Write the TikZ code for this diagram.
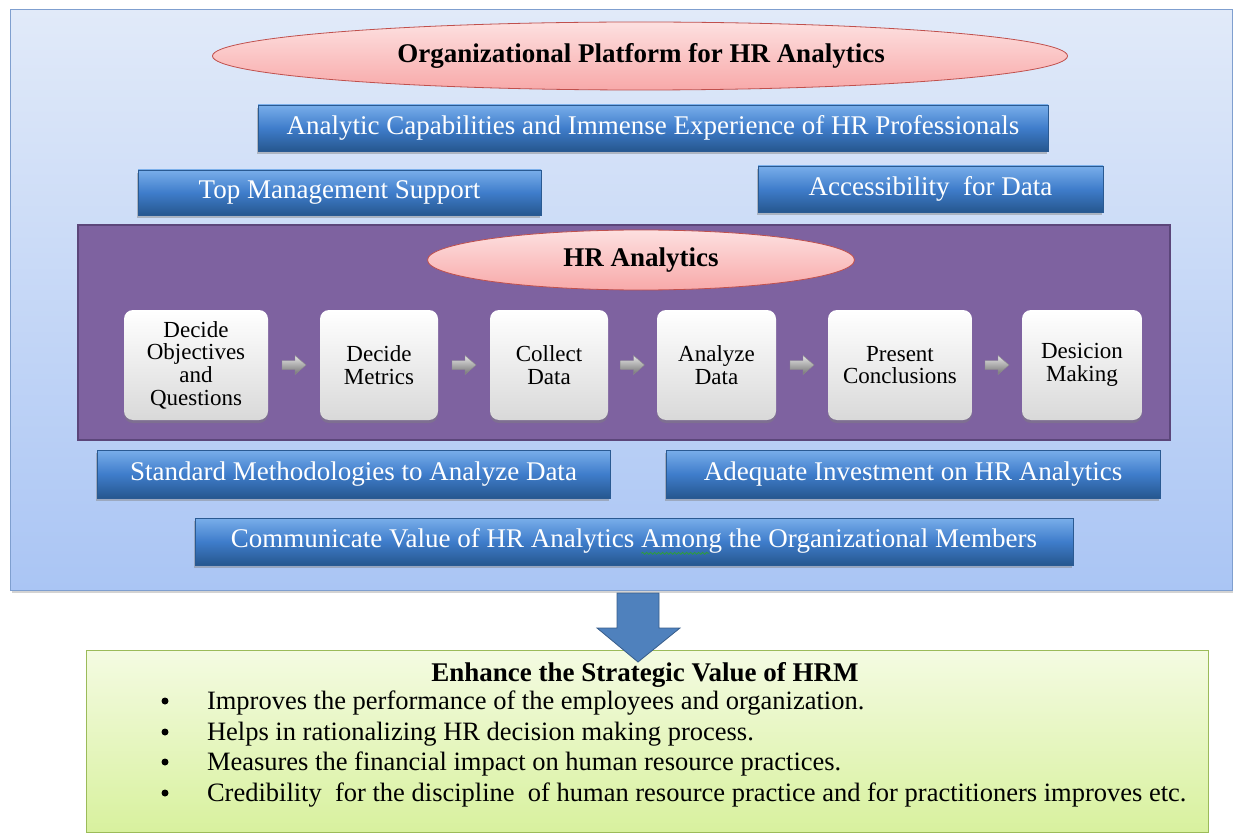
\documentclass[tikz,border=0pt]{standalone}
\usepackage{fontspec}
\setmainfont{Liberation Serif}
\usetikzlibrary{shapes.geometric,shadows,calc,decorations.pathmorphing}
\definecolor{outerTop}{HTML}{E1EAF9}
\definecolor{outerBot}{HTML}{AAC5F4}
\definecolor{outerLine}{HTML}{7F9FCF}
\definecolor{pinkTop}{HTML}{FDE0E0}
\definecolor{pinkBot}{HTML}{F8A9A9}
\definecolor{pinkLine}{HTML}{C0504D}
\definecolor{blueTop}{HTML}{79AEEA}
\definecolor{blueMid}{HTML}{3F7DCB}
\definecolor{blueBot}{HTML}{26578F}
\definecolor{blueLine}{HTML}{2A5A92}
\definecolor{purpleFill}{HTML}{7E62A0}
\definecolor{purpleLine}{HTML}{5C467A}
\definecolor{greenTop}{HTML}{F4FBE2}
\definecolor{greenBot}{HTML}{D8F19E}
\definecolor{greenLine}{HTML}{9BBB59}
\definecolor{arrowBlue}{HTML}{4F81BD}
\definecolor{arrowLine}{HTML}{385D8A}
\definecolor{spellGreen}{HTML}{2E9E3A}
\begin{document}
\begin{tikzpicture}[x=1pt,y=-1pt,
  every node/.style={inner sep=0pt,outer sep=0pt},
  outerbox/.style={rectangle,draw=outerLine,line width=1pt,top color=outerTop,bottom color=outerBot,
    drop shadow={shadow xshift=2pt,shadow yshift=-3pt,opacity=0.35}},
  pinkell/.style={ellipse,draw=pinkLine,line width=0.8pt,top color=pinkTop,bottom color=pinkBot},
  bluebox/.style={rectangle,draw=blueLine,line width=0.6pt,top color=blueTop,bottom color=blueBot,middle color=blueMid,
    drop shadow={shadow xshift=-1pt,shadow yshift=-3pt,opacity=0.45},
    text=white,font=\fontsize{27}{30}\selectfont},
  procbox/.style={rectangle,rounded corners=9pt,top color=white,bottom color=black!15,
    drop shadow={shadow xshift=0pt,shadow yshift=-3pt,opacity=0.45},
    align=center,font=\fontsize{23}{22.7}\selectfont},
  titlefont/.style={font=\fontsize{27}{30}\selectfont\bfseries},
  listfont/.style={font=\fontsize{26.5}{30}\selectfont},
  bulletdot/.style={circle,fill=black,minimum size=7pt}
]
\useasboundingbox (0,0) rectangle (1233,834);
% outer platform box
\node[outerbox,minimum width=1222pt,minimum height=580pt] (outer) at (621,300) {};
\node[pinkell,minimum width=855pt,minimum height=68pt] (ell1) at (640,56) {};
\node[titlefont] (title1) at (641,56) {Organizational Platform for HR Analytics};
% blue boxes
\node[bluebox,minimum width=790pt,minimum height=46pt] (anal) at (653,128) {Analytic Capabilities and Immense Experience of HR Professionals};
\node[bluebox,minimum width=403pt,minimum height=45pt] (top) at (339.5,192.5) {Top Management Support};
\node[bluebox,minimum width=345pt,minimum height=46pt] (acc) at (930.5,189) {Accessibility \ for Data};
% purple HR analytics box
\node[rectangle,draw=purpleLine,line width=1.5pt,fill=purpleFill,minimum width=1092pt,minimum height=215pt] (purple) at (624,332.5) {};
\node[pinkell,minimum width=427pt,minimum height=60pt] (ell2) at (641,260) {};
\node[titlefont] (title2) at (641,260) {HR Analytics};
% process boxes
\node[procbox,minimum width=144pt,minimum height=110pt] (p1) at (196,365) {Decide\\Objectives\\and\\Questions};
\node[procbox,minimum width=118pt,minimum height=110pt] (p2) at (379,365) {Decide\\Metrics};
\node[procbox,minimum width=118pt,minimum height=110pt] (p3) at (549,365) {Collect\\Data};
\node[procbox,minimum width=119pt,minimum height=110pt] (p4) at (716.5,365) {Analyze\\Data};
\node[procbox,minimum width=144pt,minimum height=110pt] (p5) at (900,365) {Present\\Conclusions};
\node[procbox,minimum width=120pt,minimum height=110pt] (p6) at (1082,365) {Desicion\\Making};
% small grey arrows
\tikzset{grayarrow/.pic={
  \path[top color=black!10,bottom color=black!55,draw=black!45,line width=0.4pt]
    (-12,-4.5) -- (1,-4.5) -- (1,-9.5) -- (12,0) -- (1,9.5) -- (1,4.5) -- (-12,4.5) -- cycle;}}
\foreach \a/\b in {p1/p2,p2/p3,p3/p4,p4/p5,p5/p6}
  \path ($(\a.east)!0.5!(\b.west)$) pic {grayarrow};
% lower blue boxes
\node[bluebox,minimum width=513pt,minimum height=48pt] (std) at (353.5,474) {Standard Methodologies to Analyze Data};
\node[bluebox,minimum width=494pt,minimum height=48pt] (inv) at (913,474) {Adequate Investment on HR Analytics};
\node[bluebox,minimum width=878pt,minimum height=47pt] (comm) at (634,541.5) {Communicate Value of HR Analytics \rlap{\tikz[baseline,x=1pt,y=1pt]\draw[spellGreen,line width=0.8pt,decorate,decoration={snake,segment length=4pt,amplitude=1pt}] (0,-6) -- (68,-6);}Among the Organizational Members};
% green result box
\node[rectangle,draw=greenLine,line width=1pt,top color=greenTop,bottom color=greenBot,minimum width=1122pt,minimum height=182pt] (green) at (647,741) {};
% big down arrow
\coordinate (dtop) at ($(outer.south)+(17,3)$);
\draw[fill=arrowBlue,draw=arrowLine,line width=0.8pt]
  ($(dtop)+(-21,0)$) -- ($(dtop)+(21,0)$) -- ($(dtop)+(21,35)$) -- ($(dtop)+(42,35)$)
  -- ($(dtop)+(0,69)$) -- ($(dtop)+(-41,35)$) -- ($(dtop)+(-21,35)$) -- cycle;
\node[titlefont] (gtitle) at (645,675) {Enhance the Strategic Value of HRM};
\foreach \i/\y/\t in {1/703/{Improves the performance of the employees and organization.},
  2/734/{Helps in rationalizing HR decision making process.},
  3/764/{Measures the financial impact on human resource practices.},
  4/795/{Credibility \ for the discipline \ of human resource practice and for practitioners improves etc.}}{
  \node[bulletdot] (b\i) at (165,\y-2) {};
  \node[listfont,anchor=west] (l\i) at (207,\y) {\t};
}
\end{tikzpicture}
\end{document}
